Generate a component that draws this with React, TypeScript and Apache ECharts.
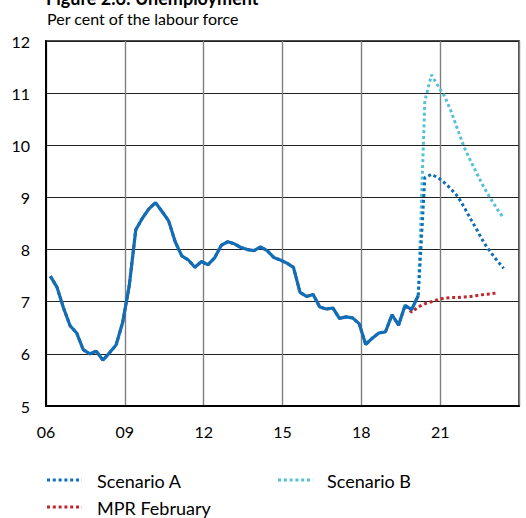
import React, { useEffect, useRef } from "react";
import * as echarts from "echarts";

// Quarterly data, 2006Q1 .. ; plotted at end-of-quarter's middle month position
const startYear = 2006;
const history: number[] = [
  7.49, 7.28, 6.88, 6.54, 6.40, 6.08, 6.00, 6.05, 5.88, 6.02, 6.17, 6.60,
  7.30, 8.38, 8.60, 8.78, 8.90, 8.73, 8.55, 8.15, 7.88, 7.80, 7.66, 7.77,
  7.71, 7.84, 8.08, 8.15, 8.11, 8.04, 8.00, 7.98, 8.05, 7.98, 7.85, 7.80,
  7.74, 7.66, 7.18, 7.10, 7.14, 6.90, 6.86, 6.88, 6.68, 6.71, 6.69, 6.58,
  6.18, 6.30, 6.40, 6.42, 6.75, 6.55, 6.93, 6.85, 7.12,
];
// Scenario projections from 2020Q2 to 2023Q2
const scenarioA: number[] = [9.38, 9.44, 9.38, 9.28, 9.16, 9.02, 8.81, 8.58, 8.36, 8.13, 7.95, 7.79, 7.64];
const scenarioB: number[] = [10.85, 11.35, 11.14, 10.94, 10.65, 10.30, 9.96, 9.69, 9.44, 9.19, 8.98, 8.78, 8.60];
// MPR February: 2019Q4 history vintage, then projection 2020Q1 .. 2023Q1
const mprFebruary: number[] = [6.80, 6.90, 6.96, 7.00, 7.04, 7.07, 7.08, 7.08, 7.09, 7.10, 7.12, 7.14, 7.15, 7.17];
const xTicks: number[] = [2006, 2009, 2012, 2015, 2018, 2021];
const legendNames: string[] = ["Scenario A", "Scenario B", "MPR February"];

const BLUE = "#0E6EB8";
const CYAN = "#56C1D2";
const RED = "#C0272D";
const FONT = "Lato, 'Open Sans', sans-serif";

const tAt = (n: number) => startYear + 2 / 12 + 0.25 * n;

export default function App() {
  const ref = useRef<HTMLDivElement>(null);
  useEffect(() => {
    if (!ref.current) return;
    const chart = echarts.init(ref.current, undefined, { renderer: "svg" });
    const lastIdx = history.length - 1;
    const mainData = history.map((v, i) => [tAt(i), v]);
    const scenStart = [tAt(lastIdx), history[lastIdx]];
    const aData = [scenStart, ...scenarioA.map((v, i) => [tAt(lastIdx + 1 + i), v])];
    const bData = [scenStart, ...scenarioB.map((v, i) => [tAt(lastIdx + 1 + i), v])];
    const mprStartIdx = lastIdx - 1;
    const redHist = history.slice(0, mprStartIdx).map((v, i) => [tAt(i), v]);
    const redProj = mprFebruary.map((v, i) => [tAt(mprStartIdx + i), v]);
    const redData = [...redHist, ...redProj];
    const dot = [3, 2.8];

    chart.setOption({
      animation: false,
      grid: {
        left: 46, right: 7, top: 41, bottom: 112,
        show: true, borderColor: "#111", borderWidth: 1.5,
      },
      xAxis: {
        type: "value", min: 2006, max: 2024, interval: 3,
        axisLine: { show: true, lineStyle: { color: "#000", width: 2 } },
        axisTick: { show: false },
        splitLine: { show: true, lineStyle: { color: "#7f7f7f", width: 1.4 } },
        axisLabel: {
          showMaxLabel: false,
          margin: 17, color: "#000", fontSize: 16, fontFamily: FONT,
          formatter: (v: number) => (xTicks.includes(v) ? String(v % 100).padStart(2, "0") : ""),
        },
      },
      yAxis: {
        type: "value", min: 5, max: 12, interval: 1,
        axisLine: { show: true, lineStyle: { color: "#000", width: 2 } },
        axisTick: { show: false },
        splitLine: { show: true, lineStyle: { color: "#222", width: 1.2 } },
        axisLabel: { margin: 16, color: "#000", fontSize: 16, fontFamily: FONT },
      },
      series: [
        {
          name: legendNames[2], type: "line", data: redData, symbol: "none", z: 2,
          lineStyle: { color: RED, width: 3, type: dot },
        },
        {
          name: legendNames[1], type: "line", data: bData, symbol: "none", z: 3,
          lineStyle: { color: CYAN, width: 3, type: dot },
        },
        {
          name: legendNames[0], type: "line", data: aData, symbol: "none", z: 4,
          lineStyle: { color: BLUE, width: 3, type: dot },
        },
        {
          name: "Unemployment", type: "line", data: mainData, symbol: "none", z: 5,
          lineStyle: { color: BLUE, width: 3.2 },
        },
      ],
      graphic: [
        {
          type: "text", left: 46, top: -11,
          style: { text: "Figure 2.6: Unemployment", font: `bold 18px ${FONT}`, fill: "#000" },
        },
        {
          type: "text", x: 47, y: 18,
          style: { text: "Per cent of the labour force", font: `16px ${FONT}`, fill: "#000", verticalAlign: "middle" },
        },
        { type: "line", shape: { x1: 47, y1: 480, x2: 82, y2: 480 }, style: { stroke: BLUE, lineWidth: 3, lineDash: dot } },
        { type: "text", x: 97, y: 481, style: { text: legendNames[0], font: `18px ${FONT}`, fill: "#000", verticalAlign: "middle" } },
        { type: "line", shape: { x1: 278, y1: 480, x2: 313, y2: 480 }, style: { stroke: CYAN, lineWidth: 3, lineDash: dot } },
        { type: "text", x: 327, y: 481, style: { text: legendNames[1], font: `18px ${FONT}`, fill: "#000", verticalAlign: "middle" } },
        { type: "line", shape: { x1: 47, y1: 507, x2: 82, y2: 507 }, style: { stroke: RED, lineWidth: 3, lineDash: dot } },
        { type: "text", x: 97, y: 508, style: { text: legendNames[2], font: `18px ${FONT}`, fill: "#000", verticalAlign: "middle" } },
      ],
    });
    return () => chart.dispose();
  }, []);
  return (
    <div style={{ position: "fixed", left: 0, top: 0, width: 526, height: 518, background: "#fff" }}>
      <div ref={ref} style={{ width: 526, height: 518 }} />
    </div>
  );
}
